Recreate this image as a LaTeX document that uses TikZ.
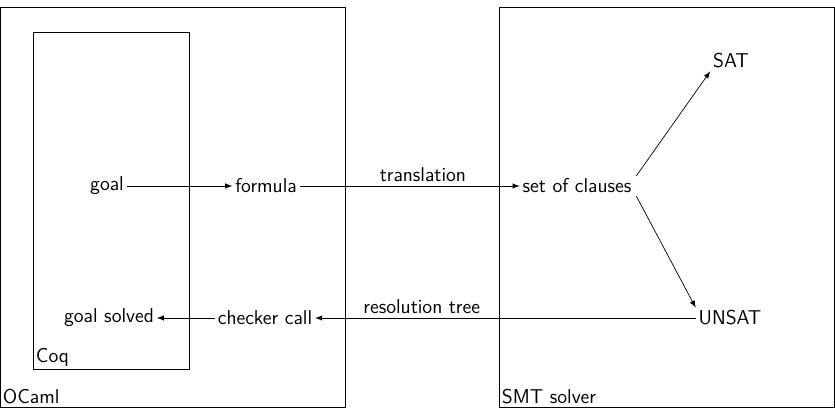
\documentclass[tikz,border=0pt]{standalone}
\usepackage{tikz}
\usetikzlibrary{arrows}
\usetikzlibrary{calc}
\usetikzlibrary{positioning}

\begin{document}
\begin{tikzpicture}[x=0.02cm,y=0.02cm,->,>=latex,thin,font=\sffamily\fontsize{11.4}{14}\selectfont]
		\tikzstyle{txt}=[inner sep=1.5pt]
		\tikzstyle{boxlbl}=[anchor=south west,inner sep=1.5pt]
		\tikzstyle{lbl}=[above,inner sep=2pt]
		\useasboundingbox (0,0) rectangle (835,408);
		% containers
		\draw[-] (0,1) rectangle (345,401);
		\draw[-] (33,39) rectangle (189,376);
		\draw[-] (499,1) rectangle (834,401);
		\node[boxlbl] (ocaml) at (0,1) {OCaml};
		\node[boxlbl] (coq) at (33,39) {Coq};
		\node[boxlbl] (smt) at (499,1) {SMT solver};
		% steps
		\node[txt] (goal) at (107,222) {goal};
		\node[txt] (formula) at (266,222) {formula};
		\node[txt] (clauses) at (577,222) {set of clauses};
		\node[txt] (sat) at (731,347) {SAT};
		\node[txt] (unsat) at (730,90) {UNSAT};
		\node[txt] (checker) at (265,90) {checker call};
		\node[txt] (solved) at (109,90) {goal solved};
		% arrows
		\draw (goal) -- (formula);
		\draw (formula) -- node[lbl,pos=0.56] {translation} (clauses);
		\draw (clauses.north east) ++(2,0) -- (sat.south west);
		\draw (clauses.south east) ++(2,0) -- (unsat.north west);
		\draw (unsat) -- node[lbl,pos=0.72] {resolution tree} (checker);
		\draw (checker) -- (solved);
\end{tikzpicture}
\end{document}
